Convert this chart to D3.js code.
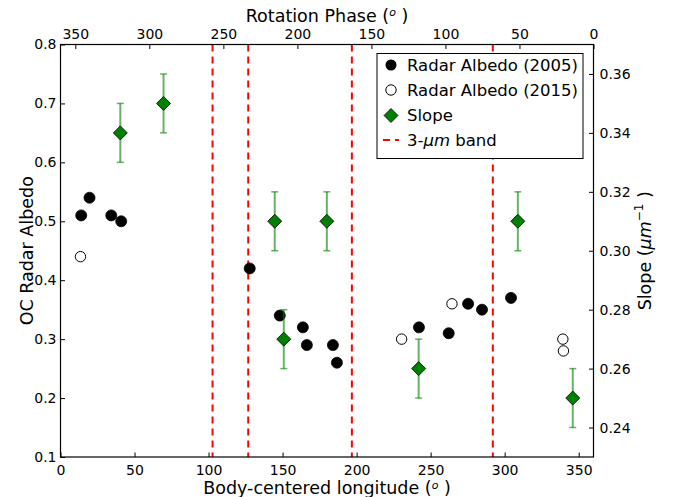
<!DOCTYPE html>
<html>
<head>
<meta charset="utf-8">
<script src="https://cdn.jsdelivr.net/npm/d3@7"></script>
<style>
  html, body { margin: 0; padding: 0; background: #fff; }
  svg { display: block; font-family: "DejaVu Sans", sans-serif; }
</style>
</head>
<body>
<svg id="chart" width="673" height="497"></svg>
<script>
// Radar albedo measurements (body-centered longitude in degrees, OC albedo)
const albedo2005Lon = [14, 19.6, 34.3, 41, 127.8, 148.1, 163.7, 166.4, 184, 186.7, 242.1, 262.2, 275.3, 284.7, 304.3];
const albedo2005Val = [0.51, 0.54, 0.51, 0.50, 0.42, 0.34, 0.32, 0.29, 0.29, 0.26, 0.32, 0.31, 0.36, 0.35, 0.37];
const albedo2015Lon = [13.5, 230.4, 264.4, 339.3, 339.7];
const albedo2015Val = [0.44, 0.30, 0.36, 0.30, 0.28];

// Spectral slope with symmetric uncertainties
const slopeLon = [40.4, 69.6, 144.7, 150.8, 179.9, 241.9, 308.9, 346];
const slopeVal = [0.34, 0.35, 0.31, 0.27, 0.31, 0.26, 0.31, 0.25];
const slopeErr = [0.01, 0.01, 0.01, 0.01, 0.01, 0.01, 0.01, 0.01];

// Longitudes of the 3-micron band boundaries
const bandLon = [102.7, 126.8, 196.8, 292];

// Tick values
const xTicks = [0, 50, 100, 150, 200, 250, 300, 350];
const phaseTicks = [350, 300, 250, 200, 150, 100, 50, 0];
const albedoTicks = [0.1, 0.2, 0.3, 0.4, 0.5, 0.6, 0.7, 0.8];
const slopeTicks = [0.24, 0.26, 0.28, 0.30, 0.32, 0.34, 0.36];

const svg = d3.select("#chart");
const L = 60.5, R = 593.5, T = 44.5, B = 457;

const x = d3.scaleLinear().domain([0, 360]).range([L, R]);
const phase = d3.scaleLinear().domain([360, 0]).range([L, R]);
const yA = d3.scaleLinear().domain([0.1, 0.8]).range([B, T]);
const yS = d3.scaleLinear().domain([0.23, 0.37]).range([B, T]);

const tickFont = "14px";
const tickLen = 4.5;

// Axes with inward ticks
function styleAxis(g) {
  g.select(".domain").remove();
  g.selectAll(".tick line").attr("stroke", "#000").attr("stroke-width", 1);
  g.selectAll(".tick text").attr("fill", "#000").style("font-size", tickFont)
    .style("font-family", "DejaVu Sans, sans-serif");
}

svg.append("g").attr("transform", `translate(0,${B})`)
  .call(d3.axisBottom(x).tickValues(xTicks).tickFormat(d3.format("d"))
    .tickSizeInner(-tickLen).tickSizeOuter(0).tickPadding(8))
  .call(styleAxis);

svg.append("g").attr("transform", `translate(0,${T})`)
  .call(d3.axisTop(phase).tickValues(phaseTicks).tickFormat(d3.format("d"))
    .tickSizeInner(-tickLen).tickSizeOuter(0).tickPadding(6))
  .call(styleAxis);

svg.append("g").attr("transform", `translate(${L},0)`)
  .call(d3.axisLeft(yA).tickValues(albedoTicks).tickFormat(d3.format(".1f"))
    .tickSizeInner(-tickLen).tickSizeOuter(0).tickPadding(4))
  .call(styleAxis);

svg.append("g").attr("transform", `translate(${R},0)`)
  .call(d3.axisRight(yS).tickValues(slopeTicks).tickFormat(d3.format(".2f"))
    .tickSizeInner(-tickLen).tickSizeOuter(0).tickPadding(6))
  .call(styleAxis);

// 3-micron band boundaries
svg.append("g").selectAll("line").data(bandLon).join("line")
  .attr("x1", d => x(d)).attr("x2", d => x(d))
  .attr("y1", T).attr("y2", B)
  .attr("stroke", "#ff0000").attr("stroke-width", 2)
  .attr("stroke-dasharray", "7,5");

// Radar albedo points
const a2005 = albedo2005Lon.map((d, i) => ({ lon: d, v: albedo2005Val[i] }));
const a2015 = albedo2015Lon.map((d, i) => ({ lon: d, v: albedo2015Val[i] }));

svg.append("g").selectAll("circle").data(a2005).join("circle")
  .attr("cx", d => x(d.lon)).attr("cy", d => yA(d.v)).attr("r", 5.5)
  .attr("fill", "#000").attr("stroke", "#000").attr("stroke-width", 0.8);

svg.append("g").selectAll("circle").data(a2015).join("circle")
  .attr("cx", d => x(d.lon)).attr("cy", d => yA(d.v)).attr("r", 5.2)
  .attr("fill", "#fff").attr("stroke", "#000").attr("stroke-width", 1);

// Slope with error bars
const slopes = slopeLon.map((d, i) => ({ lon: d, v: slopeVal[i], e: slopeErr[i] }));
const errColor = "rgba(0,128,0,0.6)";
const eg = svg.append("g");
eg.selectAll("line.bar").data(slopes).join("line").attr("class", "bar")
  .attr("x1", d => x(d.lon)).attr("x2", d => x(d.lon))
  .attr("y1", d => yS(d.v - d.e)).attr("y2", d => yS(d.v + d.e))
  .attr("stroke", errColor).attr("stroke-width", 2);
[["capHi", 1], ["capLo", -1]].forEach(([cls, s]) => {
  eg.selectAll(`line.${cls}`).data(slopes).join("line").attr("class", cls)
    .attr("x1", d => x(d.lon) - 3.5).attr("x2", d => x(d.lon) + 3.5)
    .attr("y1", d => yS(d.v + s * d.e)).attr("y2", d => yS(d.v + s * d.e))
    .attr("stroke", errColor).attr("stroke-width", 1.5);
});

const diamond = "M0,-7L7,0L0,7L-7,0Z";
svg.append("g").selectAll("path").data(slopes).join("path")
  .attr("d", diamond)
  .attr("transform", d => `translate(${x(d.lon)},${yS(d.v)})`)
  .attr("fill", "#008000").attr("stroke", "#000").attr("stroke-width", 0.8);

// Frame
svg.append("rect").attr("x", L).attr("y", T).attr("width", R - L).attr("height", B - T)
  .attr("fill", "none").attr("stroke", "#000").attr("stroke-width", 1.2);

// Axis titles
const labelSize = "17.5px";
function degTitle(sel, text) {
  sel.append("tspan").text(text + " (");
  sel.append("tspan").text("o").style("font-style", "italic").style("font-size", "11px")
    .attr("dy", -5.5);
  sel.append("tspan").text(" )").attr("dy", 5.5);
}

const topTitle = svg.append("text").attr("x", (L + R) / 2).attr("y", 21.5)
  .attr("text-anchor", "middle").style("font-size", labelSize);
degTitle(topTitle, "Rotation Phase");

const bottomTitle = svg.append("text").attr("x", (L + R) / 2).attr("y", 494)
  .attr("text-anchor", "middle").style("font-size", labelSize);
degTitle(bottomTitle, "Body-centered longitude");

svg.append("text").attr("transform", `translate(33,${(T + B) / 2}) rotate(-90)`)
  .attr("text-anchor", "middle").style("font-size", labelSize).text("OC Radar Albedo");

const rightTitle = svg.append("text").attr("transform", `translate(651,${(T + B) / 2}) rotate(-90)`)
  .attr("text-anchor", "middle").style("font-size", labelSize);
rightTitle.append("tspan").text("Slope (");
rightTitle.append("tspan").text("μm").style("font-style", "italic");
rightTitle.append("tspan").text("−1").style("font-size", "12px").attr("dy", -8);
rightTitle.append("tspan").text(" )").attr("dy", 8);

// Legend
const lg = svg.append("g");
lg.append("rect").attr("x", 377).attr("y", 53.5).attr("width", 206).attr("height", 105)
  .attr("fill", "#fff").attr("stroke", "#000").attr("stroke-width", 1);
const rows = [65, 90, 115.5, 140];
const legendFont = "16.5px";
lg.append("circle").attr("cx", 391).attr("cy", rows[0]).attr("r", 5.5).attr("fill", "#000");
lg.append("circle").attr("cx", 391).attr("cy", rows[1]).attr("r", 5.2)
  .attr("fill", "#fff").attr("stroke", "#000").attr("stroke-width", 1);
lg.append("path").attr("d", diamond).attr("transform", `translate(391,${rows[2]})`)
  .attr("fill", "#008000").attr("stroke", "#000").attr("stroke-width", 0.8);
lg.append("line").attr("x1", 383).attr("x2", 399).attr("y1", rows[3]).attr("y2", rows[3])
  .attr("stroke", "#ff0000").attr("stroke-width", 2).attr("stroke-dasharray", "7,5");

const legendLabels = ["Radar Albedo (2005)", "Radar Albedo (2015)", "Slope"];
legendLabels.forEach((t, i) => {
  lg.append("text").attr("x", 407).attr("y", rows[i]).attr("dy", "0.36em")
    .style("font-size", legendFont).text(t);
});
const band = lg.append("text").attr("x", 407).attr("y", rows[3]).attr("dy", "0.36em")
  .style("font-size", legendFont);
band.append("tspan").text("3-");
band.append("tspan").text("μm").style("font-style", "italic");
band.append("tspan").text(" band");
</script>
</body>
</html>
